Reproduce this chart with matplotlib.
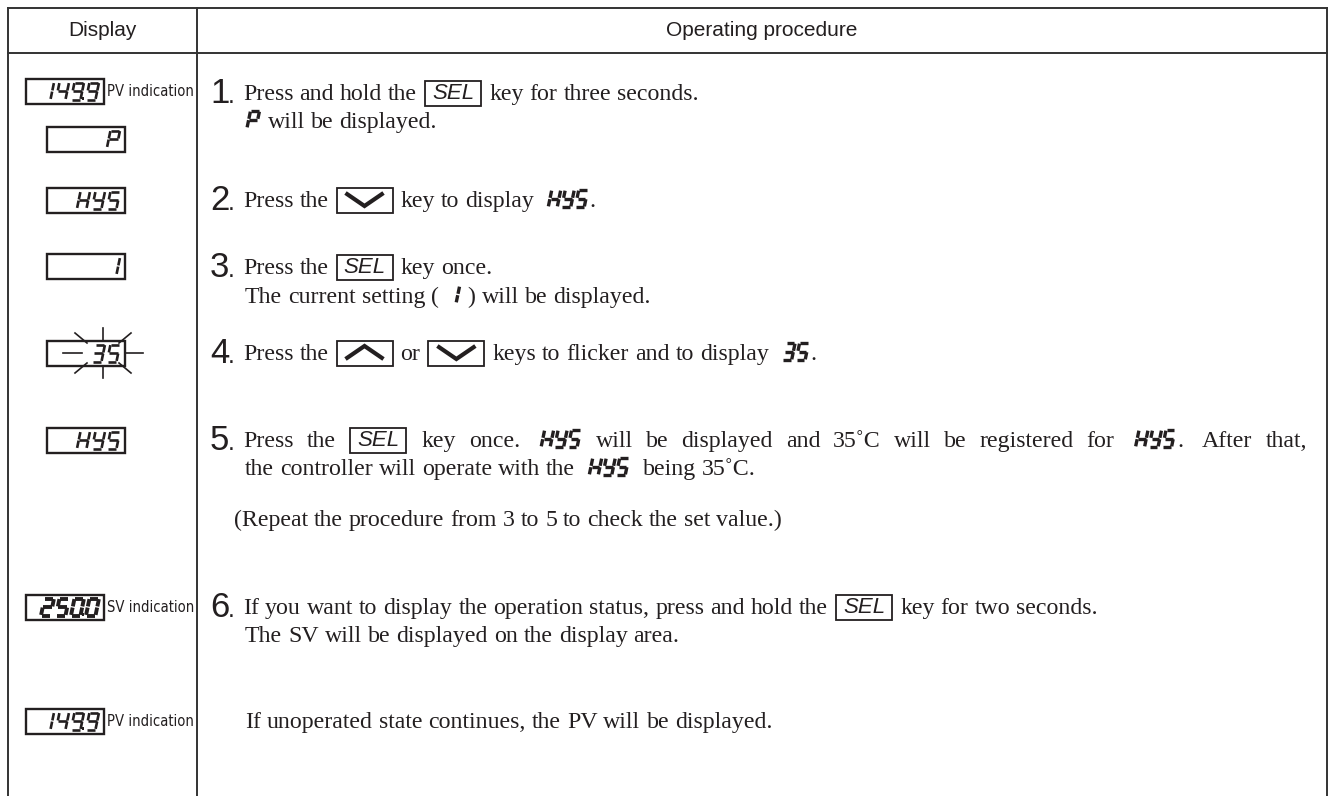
import matplotlib
matplotlib.use("Agg")
import matplotlib.pyplot as plt
from matplotlib import font_manager
from matplotlib.font_manager import FontProperties
from matplotlib.patches import Rectangle

W, H = 1335, 796
INK = "#231f20"

header_labels = ["Display", "Operating procedure"]

display_values = ["149.9", "P", "HYS", "1", "35", "HYS", "250.0", "149.9"]
display_notes = ["PV indication", "", "", "", "", "", "SV indication", "PV indication"]
display_x = [26, 47, 47, 47, 47, 47, 26, 26]
display_y = [91, 139, 200, 266, 353, 440, 607, 721]
display_bold = [False, False, False, False, False, False, True, False]

step_numbers = ["1", "2", "3", "4", "5", "6"]
step_y = [103, 210, 277, 363, 450, 617]

# each line: (x start, baseline y, justify-to x or None, tokens)
text_lines = [
    (243, 100, None, [("t", "Press and hold the "), ("key", "SEL"), ("t", " key for three seconds.")]),
    (245, 128, None, [("seg", "P"), ("t", " will be displayed.")]),
    (243, 207, None, [("t", "Press the "), ("down", ""), ("t", " key to display  "), ("seg", "HYS"), ("t", ".")]),
    (243, 274, None, [("t", "Press the "), ("key", "SEL"), ("t", " key once.")]),
    (245, 303, None, [("t", "The current setting ( "), ("seg", "1"), ("t", " ) will be displayed.")]),
    (243, 360, None, [("t", "Press the "), ("up", ""), ("t", " or "), ("down", ""),
                      ("t", " keys to flicker and to display  "), ("seg", "35"), ("t", ".")]),
    (243, 447, 1307, [("t", "Press the "), ("key", "SEL"), ("t", " key once.  "), ("seg", "HYS"),
                      ("t", " will be displayed and 35\u02daC will be registered for  "), ("seg", "HYS"),
                      ("t", ".  After that,")]),
    (245, 475, None, [("t", "the controller will operate with the  "), ("seg", "HYS"), ("t", "  being 35\u02daC.")]),
    (234, 526, None, [("t", "(Repeat the procedure from 3 to 5 to check the set value.)")]),
    (243, 614, None, [("t", "If you want to display the operation status, press and hold the "), ("key", "SEL"),
                      ("t", " key for two seconds.")]),
    (245, 642, None, [("t", "The SV will be displayed on the display area.")]),
    (245, 728, None, [("t", "If unoperated state continues, the PV will be displayed.")]),
]

SERIF = ["Liberation Serif", "DejaVu Serif"]
SANS = ["Liberation Sans", "DejaVu Sans"]
TXT_SIZE = 17.2

# a condensed sans for the small "PV indication" notes, if one is installed
narrow_file = None
for f in font_manager.fontManager.ttflist:
    if f.style != "normal" or f.weight not in (400, "normal", "regular"):
        continue
    if "Narrow" in f.name or "Condensed" in f.name or f.stretch in ("condensed", "semi-condensed"):
        if "Sans" in f.name or "Roboto" in f.name:
            narrow_file = f.fname
            break
if narrow_file:
    NOTE_PROP = FontProperties(fname=narrow_file, size=10.6)
else:
    NOTE_PROP = FontProperties(family=SANS, size=10.5)

SEGS = {"a": ((0, 1), (1, 1)), "b": ((1, 1), (1, .5)), "c": ((1, .5), (1, 0)),
        "d": ((0, 0), (1, 0)), "e": ((0, .5), (0, 0)), "f": ((0, 1), (0, .5)),
        "g": ((0, .5), (1, .5))}
CHARS = {"0": "abcdef", "1": "bc", "2": "abged", "3": "abgcd", "4": "fgbc", "5": "afgcd",
         "9": "abcdfg", "P": "abefg", "H": "bcefg", "Y": "bcdfg", "S": "afgcd", "-": "g"}

fig = plt.figure(figsize=(W / 100, H / 100), dpi=100)
ax = fig.add_axes([0, 0, 1, 1])
ax.set_xlim(0, W)
ax.set_ylim(H, 0)
ax.axis("off")
renderer = fig.canvas.get_renderer()


def seg_char(x0, yb, ch, w, h, sl, lw, gap):
    for s in CHARS[ch]:
        (u1, v1), (u2, v2) = SEGS[s]
        a1, b1 = u1 + gap * (u2 - u1), v1 + gap * (v2 - v1)
        a2, b2 = u2 - gap * (u2 - u1), v2 - gap * (v2 - v1)
        ax.plot([x0 + a1 * w + sl * b1, x0 + a2 * w + sl * b2],
                [yb - b1 * h, yb - b2 * h], color=INK, lw=lw, solid_capstyle="butt")


def seg_string(x_right, yb, s, w=9, h=16, sl=3, pitch=15, lw=2.0, gap=0.1):
    n = len([c for c in s if c != "."])
    i = -1
    for c in s:
        if c == ".":
            x0 = x_right - w - sl - (n - 1 - i) * pitch
            ax.add_patch(Rectangle((x0 + w + 1.0, yb - 2.5), 2.5, 2.5, color=INK, lw=0))
            continue
        i += 1
        x0 = x_right - w - sl - (n - 1 - i) * pitch
        seg_char(x0, yb, c, w, h, sl, lw, gap)


TXT_KW = dict(fontsize=TXT_SIZE, family=SERIF, color=INK)


def text_width(s):
    t1 = ax.text(0, 0, s + "|", **TXT_KW)
    t2 = ax.text(0, 0, "|", **TXT_KW)
    wdt = t1.get_window_extent(renderer).width - t2.get_window_extent(renderer).width
    t1.remove()
    t2.remove()
    return wdt


SPACE_W = text_width(" ")
KEY_W, KEY_H = 56, 25


def item_width(kind, val):
    if kind == "w":
        return text_width(val)
    if kind == "sp":
        return val * SPACE_W
    if kind in ("key", "up", "down"):
        return KEY_W + 4
    return len(val) * 13.5 + 3


def draw_item(x, yb, kind, val):
    if kind == "w":
        ax.text(x, yb, val, va="baseline", ha="left", **TXT_KW)
    elif kind in ("key", "up", "down"):
        x0 = x + 2
        ax.add_patch(Rectangle((x0, yb - 19), KEY_W, KEY_H, fill=False, lw=1.3, ec=INK))
        if kind == "key":
            ax.text(x0 + KEY_W / 2, yb - 6.5, val, fontsize=16, family=SANS, style="italic",
                    color=INK, ha="center", va="center")
        else:
            top, bot = yb - 14, yb - 1
            ys = [bot, top, bot] if kind == "up" else [top, bot, top]
            ax.plot([x0 + 9, x0 + KEY_W / 2, x0 + KEY_W - 9], ys, color=INK, lw=3.0,
                    solid_capstyle="butt", solid_joinstyle="miter")
    elif kind == "seg":
        wd = len(val) * 13.5 + 1
        seg_string(x + wd, yb, val, w=9, h=17, sl=3.5, pitch=13.5, lw=2.4, gap=0.08)


def split_tokens(tokens):
    items = []
    for kind, val in tokens:
        if kind != "t":
            items.append((kind, val))
            continue
        word = ""
        for ch in val:
            if ch == " ":
                if word:
                    items.append(("w", word))
                    word = ""
                if items and items[-1][0] == "sp":
                    items[-1] = ("sp", items[-1][1] + 1)
                else:
                    items.append(("sp", 1))
            else:
                word += ch
        if word:
            items.append(("w", word))
    return items


def draw_line(x, yb, target, tokens):
    items = split_tokens(tokens)
    extra = 0
    if target is not None:
        natural = sum(item_width(k, v) for k, v in items)
        n_gaps = sum(1 for k, _ in items if k == "sp")
        extra = (target - x - natural) / n_gaps
    for kind, val in items:
        if kind != "sp":
            draw_item(x, yb, kind, val)
        x += item_width(kind, val) + (extra if kind == "sp" else 0)


# table lines
for xv in (8, 197, 1327):
    ax.plot([xv, xv], [8, H], color="#333333", lw=1.4)
for yv in (8, 53):
    ax.plot([8, 1327], [yv, yv], color="#333333", lw=1.4)

ax.text(102, 31, header_labels[0], fontsize=15, family=SANS, color=INK, ha="center", va="center")
ax.text(762, 31, header_labels[1], fontsize=15, family=SANS, color=INK, ha="center", va="center")

# display column
for val, note, x, cy, bold in zip(display_values, display_notes, display_x, display_y, display_bold):
    ax.add_patch(Rectangle((x, cy - 12.5), 78, 25, fill=False, lw=1.7, ec=INK))
    seg_string(x + 78 - 5, cy + 8.5, val, w=9.5, h=17, sl=3.5, pitch=15, lw=2.8 if bold else 1.9,
               gap=0.07)
    if note:
        ax.text(x + 81, cy + 1, note, fontproperties=NOTE_PROP, color=INK, ha="left", va="center")

# flicker marks around the 35 display
cx, cy = 103, display_y[4]
rays = [((-40, 0), (-21, 0)), ((22, 0), (40, 0)), ((0, -25), (0, -13)), ((0, 13), (0, 25)),
        ((-28, -20), (-16, -10)), ((28, -20), (16, -10)), ((-28, 20), (-16, 10)), ((28, 20), (16, 10))]
for (dx1, dy1), (dx2, dy2) in rays:
    ax.plot([cx + dx1, cx + dx2], [cy + dy1, cy + dy2], color=INK, lw=1.2)

# step numbers
for num, yb in zip(step_numbers, step_y):
    ax.text(210, yb, num, fontsize=25, family=SANS, color=INK, ha="left", va="baseline")
    ax.text(228, yb, ".", fontsize=18, family=SANS, color=INK, ha="left", va="baseline")

for x, yb, target, tokens in text_lines:
    draw_line(x, yb, target, tokens)

fig.savefig("out.png", dpi=100)
